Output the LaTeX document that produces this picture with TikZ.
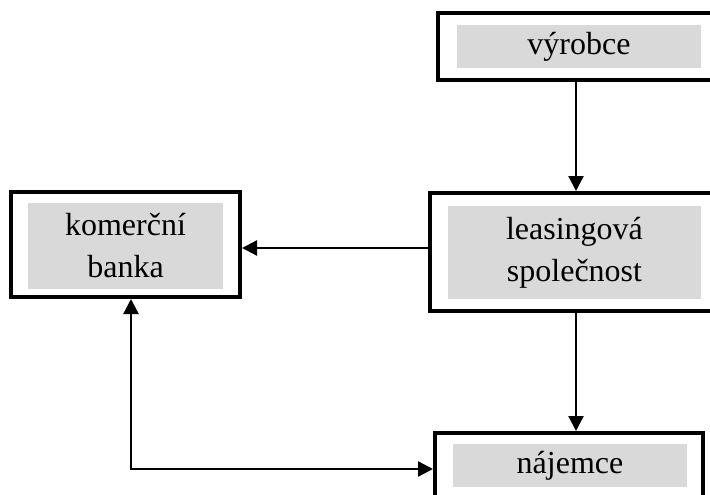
\documentclass[tikz,border=0pt]{standalone}
\usepackage{fontspec}
\setmainfont{Liberation Serif}
\usetikzlibrary{arrows.meta}
\definecolor{boxgray}{HTML}{D9D9D9}
\tikzset{
  outerbox/.style={draw=black, line width=4pt, fill=white, inner sep=0pt},
  graybox/.style={fill=boxgray, draw=none, inner sep=0pt, align=center,
    font=\fontsize{32}{42}\selectfont, text=black},
  arr/.style={line width=2.3pt, -{Triangle[length=15pt,width=15pt]}},
  darr/.style={line width=2.3pt, {Triangle[length=15pt,width=15pt]}-{Triangle[length=15pt,width=15pt]}}
}
\begin{document}
\begin{tikzpicture}[x=1pt,y=-1pt]
\useasboundingbox (0,0) rectangle (710,495);
\clip (0,0) rectangle (710,495);
% outer frames
\node[outerbox, minimum width=284pt, minimum height=67pt] (vyr) at (580,46.5) {};
\node[outerbox, minimum width=292pt, minimum height=118pt] (leas) at (576,252) {};
\node[outerbox, minimum width=229pt, minimum height=105pt] (kom) at (125.5,244.5) {};
\node[outerbox, minimum width=268pt, minimum height=97pt] (naj) at (569,481.5) {};
% gray inner labels
\node[graybox, minimum width=244pt, minimum height=43pt] (vyrt) at (579,46.5) {výrobce};
\node[graybox, minimum width=253pt, minimum height=93pt] (least) at (574.5,252.5) {leasingová\\společnost};
\node[graybox, minimum width=195pt, minimum height=86pt] (komt) at (125.5,246) {komerční\\banka};
\node[graybox, minimum width=234pt, minimum height=43pt] (najt) at (570,465.5) {nájemce};
% helper coordinates
\coordinate (xa) at (576,0);
\coordinate (ya) at (0,248);
\coordinate (xb) at (131,0);
\coordinate (yb) at (0,469);
% connectors
\draw[arr] (vyr.south -| xa) -- (leas.north -| xa);
\draw[arr] (leas.south -| xa) -- (naj.north -| xa);
\draw[arr] (leas.west |- ya) -- (kom.east |- ya);
\draw[darr] (kom.south -| xb) |- (naj.west |- yb);
\end{tikzpicture}
\end{document}
